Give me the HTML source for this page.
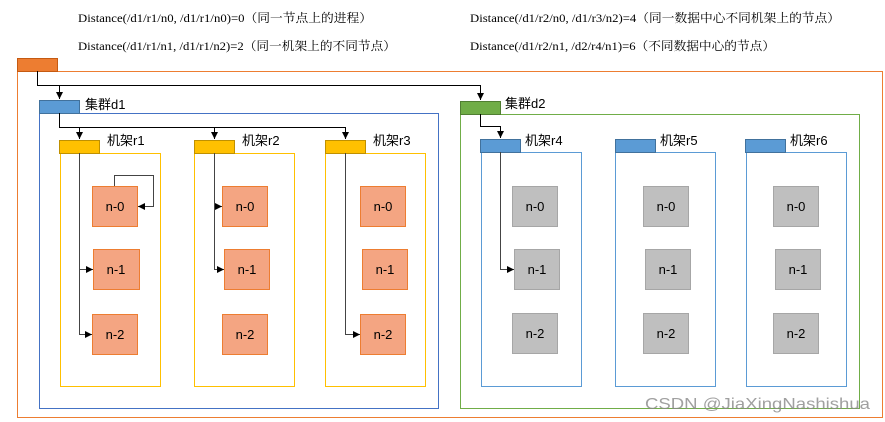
<!DOCTYPE html>
<html><head><meta charset="utf-8"><style>
html,body{margin:0;padding:0;background:#fff;}
svg{display:block;}
.t{font-family:"Liberation Serif","Noto Serif CJK SC",serif;font-size:12px;fill:#000;}
.l{font-family:"Liberation Sans","Noto Sans CJK SC",sans-serif;font-size:13px;fill:#000;}
.n{font-family:"Liberation Sans",sans-serif;font-size:13px;fill:#000;text-anchor:middle;}
</style></head><body>
<svg width="885" height="422" viewBox="0 0 885 422" xmlns="http://www.w3.org/2000/svg">
<defs><marker id="a" markerWidth="8" markerHeight="8" refX="7" refY="4" orient="auto" markerUnits="userSpaceOnUse"><path d="M0,0.5 L7,4 L0,7.5z" fill="#000"/></marker></defs>
<text class="t" x="78" y="22" textLength="294" lengthAdjust="spacingAndGlyphs">Distance(/d1/r1/n0, /d1/r1/n0)=0（同一节点上的进程）</text>
<text class="t" x="78" y="50" textLength="318" lengthAdjust="spacingAndGlyphs">Distance(/d1/r1/n1, /d1/r1/n2)=2（同一机架上的不同节点）</text>
<text class="t" x="470" y="22" textLength="370" lengthAdjust="spacingAndGlyphs">Distance(/d1/r2/n0, /d1/r3/n2)=4（同一数据中心不同机架上的节点）</text>
<text class="t" x="470" y="50" textLength="305" lengthAdjust="spacingAndGlyphs">Distance(/d1/r2/n1, /d2/r4/n1)=6（不同数据中心的节点）</text>
<rect x="17.5" y="71.5" width="865" height="346" fill="none" stroke="#ED7D31"/>
<rect x="17.5" y="58.5" width="40" height="13" fill="#ED7D31" stroke="#C55A11"/>
<rect x="39.5" y="113.5" width="399" height="295" fill="none" stroke="#4472C4"/>
<rect x="39.5" y="100.5" width="40" height="13" fill="#5B9BD5" stroke="#41719C"/>
<text class="l" x="85" y="109">集群d1</text>
<rect x="460.5" y="114.5" width="399" height="294" fill="none" stroke="#70AD47"/>
<rect x="460.5" y="101.5" width="40" height="13" fill="#70AD47" stroke="#507E32"/>
<text class="l" x="505" y="108">集群d2</text>
<path d="M37.5,71 V85.5 H480.5 V100" fill="none" stroke="#000" marker-end="url(#a)"/>
<path d="M37.5,85.5 H59.5 V99" fill="none" stroke="#000" marker-end="url(#a)"/>
<g fill="none" stroke="#FFC000">
<rect x="60.5" y="153.5" width="100" height="233"/>
<rect x="194.5" y="153.5" width="100" height="233"/>
<rect x="325.5" y="153.5" width="100" height="233"/>
</g>
<g fill="#FFC000" stroke="#BF9000">
<rect x="59.5" y="140.5" width="40" height="13"/>
<rect x="194.5" y="140.5" width="40" height="13"/>
<rect x="325.5" y="140.5" width="40" height="13"/>
</g>
<text class="l" x="107" y="145">机架r1</text>
<text class="l" x="242" y="145">机架r2</text>
<text class="l" x="373" y="145">机架r3</text>
<g fill="none" stroke="#5B9BD5">
<rect x="481.5" y="152.5" width="100" height="234"/>
<rect x="615.5" y="152.5" width="100" height="234"/>
<rect x="746.5" y="152.5" width="100" height="234"/>
</g>
<g fill="#5B9BD5" stroke="#41719C">
<rect x="480.5" y="139.5" width="40" height="13"/>
<rect x="615.5" y="139.5" width="40" height="13"/>
<rect x="745.5" y="139.5" width="40" height="13"/>
</g>
<text class="l" x="525" y="145">机架r4</text>
<text class="l" x="660" y="145">机架r5</text>
<text class="l" x="790" y="145">机架r6</text>
<path d="M59.5,113 V127.5 H345.5 V139" fill="none" stroke="#000" marker-end="url(#a)"/>
<path d="M79.5,127.5 V139" fill="none" stroke="#000" marker-end="url(#a)"/>
<path d="M214.5,127.5 V139" fill="none" stroke="#000" marker-end="url(#a)"/>
<path d="M480.5,114 V126.5 H500.5 V138" fill="none" stroke="#000" marker-end="url(#a)"/>
<g fill="#F4A582" stroke="#ED7D31">
<rect x="92.5" y="186.5" width="45" height="40"/>
<rect x="93.5" y="249.5" width="46" height="40"/>
<rect x="92.5" y="314.5" width="45" height="40"/>
<rect x="222.5" y="186.5" width="45" height="40"/>
<rect x="224.5" y="249.5" width="45" height="40"/>
<rect x="222.5" y="314.5" width="45" height="40"/>
<rect x="360.5" y="186.5" width="45" height="40"/>
<rect x="362.5" y="249.5" width="45" height="40"/>
<rect x="360.5" y="314.5" width="45" height="40"/>
</g>
<g fill="#BFBFBF" stroke="#A6A6A6">
<rect x="512.5" y="186.5" width="45" height="40"/>
<rect x="514.5" y="249.5" width="45" height="40"/>
<rect x="512.5" y="313.5" width="45" height="40"/>
<rect x="643.5" y="186.5" width="45" height="40"/>
<rect x="645.5" y="249.5" width="45" height="40"/>
<rect x="643.5" y="313.5" width="45" height="40"/>
<rect x="773.5" y="186.5" width="45" height="40"/>
<rect x="775.5" y="249.5" width="45" height="40"/>
<rect x="773.5" y="313.5" width="45" height="40"/>
</g>
<text class="n" x="115" y="211">n-0</text><text class="n" x="116" y="274">n-1</text><text class="n" x="115" y="339">n-2</text>
<text class="n" x="245" y="211">n-0</text><text class="n" x="247" y="274">n-1</text><text class="n" x="245" y="339">n-2</text>
<text class="n" x="383" y="211">n-0</text><text class="n" x="385" y="274">n-1</text><text class="n" x="383" y="339">n-2</text>
<text class="n" x="535" y="211">n-0</text><text class="n" x="537" y="274">n-1</text><text class="n" x="535" y="338">n-2</text>
<text class="n" x="666" y="211">n-0</text><text class="n" x="668" y="274">n-1</text><text class="n" x="666" y="338">n-2</text>
<text class="n" x="796" y="211">n-0</text><text class="n" x="798" y="274">n-1</text><text class="n" x="796" y="338">n-2</text>
<g fill="none" stroke="#444">
<path d="M79.5,153 V334.5 H92" marker-end="url(#a)"/>
<path d="M79.5,269.5 H93" marker-end="url(#a)"/>
<path d="M114.5,186 V175.5 H153.5 V206.5 H138" marker-end="url(#a)"/>
<path d="M214.5,153 V269.5 H224" marker-end="url(#a)"/>
<path d="M214.5,206.5 H222" marker-end="url(#a)"/>
<path d="M345.5,153 V334.5 H360" marker-end="url(#a)"/>
<path d="M500.5,152 V269.5 H514" marker-end="url(#a)"/>
</g>
<text x="645" y="409" font-family="'Liberation Sans',sans-serif" font-size="16" fill="#888" fill-opacity="0.8" textLength="225" lengthAdjust="spacingAndGlyphs">CSDN @JiaXingNashishua</text>
</svg>
</body></html>
